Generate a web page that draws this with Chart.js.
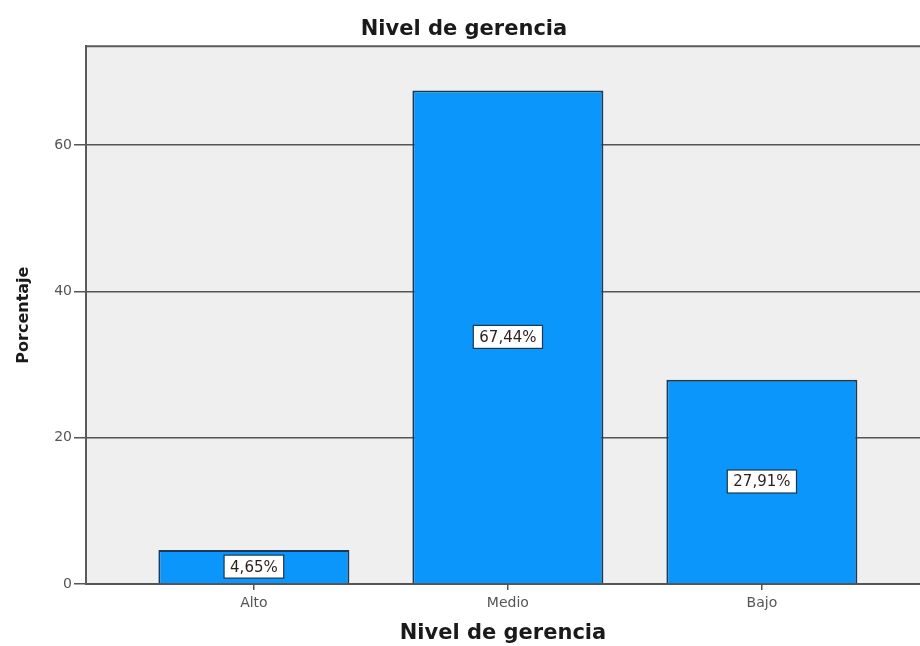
<!DOCTYPE html>
<html>
<head>
<meta charset="utf-8">
<script src="https://cdn.jsdelivr.net/npm/chart.js@4/dist/chart.umd.min.js"></script>
<style>
  html, body { margin: 0; padding: 0; background: #ffffff; overflow: hidden; }
  #wrap { width: 920px; height: 646px; position: relative; }
</style>
</head>
<body>
<div id="wrap"><canvas id="c" width="920" height="646"></canvas></div>
<script>
// Management level distribution (percent of respondents)
const categories = ['Alto', 'Medio', 'Bajo'];
const percentages = [4.65, 67.44, 27.91];
const yTicks = [0, 20, 40, 60];

const chartTitle = 'Nivel de gerencia';
const xTitle = 'Nivel de gerencia';
const yTitle = 'Porcentaje';

const FONT = '"DejaVu Sans", "Liberation Sans", Arial, sans-serif';
const AXIS_GRAY = '#555555';

// Panel background and the top frame line of the plot area
const panelPlugin = {
  id: 'panel',
  beforeDraw(chart) {
    const { ctx, chartArea: a } = chart;
    ctx.save();
    ctx.fillStyle = '#efefef';
    ctx.fillRect(a.left, a.top, a.right - a.left, a.bottom - a.top);
    ctx.restore();
  },
  afterDraw(chart) {
    const { ctx, chartArea: a } = chart;
    ctx.save();
    ctx.strokeStyle = '#5a5a5a';
    ctx.lineWidth = 2;
    ctx.beginPath();
    ctx.moveTo(a.left - 1, a.top);
    ctx.lineTo(a.right, a.top);
    ctx.stroke();
    ctx.restore();
  }
};

// Boxed percentage label in the middle of each bar
const valueBoxPlugin = {
  id: 'valueBox',
  afterDatasetsDraw(chart) {
    const { ctx } = chart;
    const meta = chart.getDatasetMeta(0);
    const data = chart.data.datasets[0].data;
    ctx.save();
    ctx.font = '15px ' + FONT;
    ctx.textAlign = 'center';
    ctx.textBaseline = 'middle';
    meta.data.forEach((bar, i) => {
      const v = data[i].y;
      const text = v.toFixed(2).replace('.', ',') + '%';
      const cx = bar.x;
      const cy = (bar.y + bar.base) / 2;
      const w = ctx.measureText(text).width + 12;
      const h = 23;
      ctx.fillStyle = '#ffffff';
      ctx.fillRect(cx - w / 2, cy - h / 2, w, h);
      ctx.strokeStyle = '#1d3550';
      ctx.lineWidth = 1.2;
      ctx.strokeRect(cx - w / 2, cy - h / 2, w, h);
      ctx.fillStyle = '#2e1e1e';
      ctx.fillText(text, cx, cy + 1);
    });
    ctx.restore();
  }
};

new Chart(document.getElementById('c'), {
  type: 'bar',
  data: {
    datasets: [{
      label: yTitle,
      data: percentages.map((v, i) => ({ x: i, y: v })),
      backgroundColor: '#0a96fb',
      borderColor: '#1b3a5a',
      borderWidth: 2,
      categoryPercentage: 1,
      barPercentage: 0.752
    }]
  },
  options: {
    responsive: false,
    animation: false,
    devicePixelRatio: 1,
    layout: { padding: { left: 8, right: 0, top: 0, bottom: 0 } },
    plugins: {
      legend: { display: false },
      tooltip: { enabled: false },
      title: {
        display: true,
        text: chartTitle,
        color: '#1a1a1a',
        font: { family: FONT, size: 21, weight: 'bold' },
        padding: { top: 17, bottom: 4 }
      }
    },
    scales: {
      x: {
        type: 'linear',
        offset: false,
        min: -0.661,
        max: 2.6225,
        afterBuildTicks(scale) {
          scale.ticks = categories.map((_, i) => ({ value: i }));
        },
        afterFit(scale) { scale.height = 62; },
        ticks: {
          color: AXIS_GRAY,
          font: { family: FONT, size: 14 },
          padding: 5,
          maxRotation: 0,
          autoSkip: false,
          callback: (v) => categories[v] ?? ''
        },
        grid: {
          offset: false,
          drawOnChartArea: false,
          drawTicks: true,
          tickLength: 6,
          color: AXIS_GRAY,
          lineWidth: 1.5
        },
        border: { display: true, color: AXIS_GRAY, width: 2 },
        title: {
          display: true,
          text: xTitle,
          color: '#1a1a1a',
          font: { family: FONT, size: 21, weight: 'bold' },
          padding: { top: 2, bottom: 0 }
        }
      },
      y: {
        min: 0,
        max: 73.5,
        afterBuildTicks(scale) {
          scale.ticks = yTicks.map((v) => ({ value: v }));
        },
        afterFit(scale) { scale.width = 78; },
        ticks: {
          color: AXIS_GRAY,
          font: { family: FONT, size: 14 },
          padding: 2
        },
        grid: {
          color: AXIS_GRAY,
          lineWidth: 1.5,
          tickLength: 12,
          drawTicks: true
        },
        border: { display: true, color: '#5a5a5a', width: 2 },
        title: {
          display: true,
          text: yTitle,
          color: '#1a1a1a',
          font: { family: FONT, size: 16, weight: 'bold' },
          padding: { top: 6, bottom: 4 }
        }
      }
    }
  },
  plugins: [panelPlugin, valueBoxPlugin]
});
</script>
</body>
</html>
